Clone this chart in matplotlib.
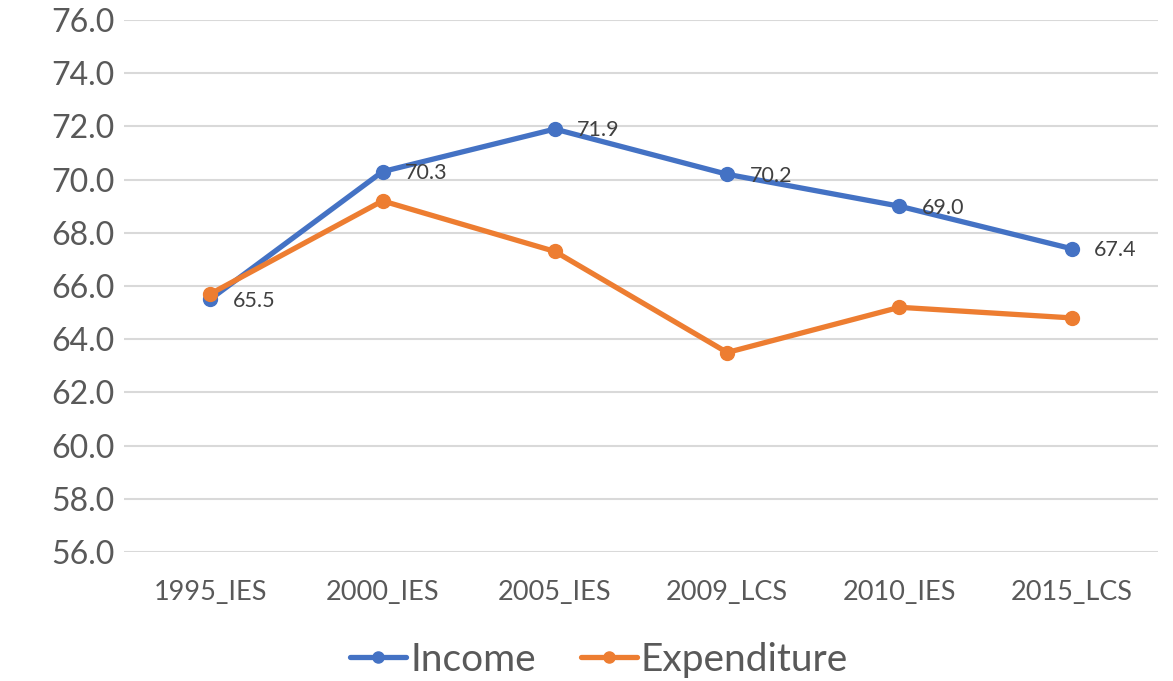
import matplotlib
matplotlib.use("Agg")
import matplotlib.pyplot as plt

categories = ["1995_IES", "2000_IES", "2005_IES", "2009_LCS", "2010_IES", "2015_LCS"]
income = [65.5, 70.3, 71.9, 70.2, 69.0, 67.4]
expenditure = [65.7, 69.2, 67.3, 63.5, 65.2, 64.8]
yticks = [56.0, 58.0, 60.0, 62.0, 64.0, 66.0, 68.0, 70.0, 72.0, 74.0, 76.0]

plt.rcParams['font.family'] = ['Lato', 'DejaVu Sans']
grey = '#595959'
blue = '#4472C4'
orange = '#ED7D31'

fig = plt.figure(figsize=(11.73, 6.81), dpi=100)
ax = fig.add_axes([124/1173, 1-552/681, (1158-124)/1173, (552-20)/681])

x = list(range(len(categories)))
ax.plot(x, income, color=blue, lw=3.8, marker='o', ms=10, label='Income', zorder=3, solid_capstyle='round')
ax.plot(x, expenditure, color=orange, lw=3.8, marker='o', ms=10, label='Expenditure', zorder=3, solid_capstyle='round')

for xi, v in zip(x, income):
    ax.annotate(f"{v:.1f}", (xi, v), xytext=(16, -1), textcoords='offset points',
                ha='left', va='center', fontsize=15.5, color='#404040', zorder=4)

ax.set_xlim(-0.5, len(categories) - 0.5)
ax.set_ylim(56, 76)
ax.set_yticks(yticks)
ax.set_yticklabels([f"{t:.1f}" for t in yticks], fontsize=23, color=grey)
ax.set_xticks(x)
ax.set_xticklabels(categories, fontsize=19.5, color=grey)
ax.tick_params(axis='both', length=0)
ax.tick_params(axis='y', pad=7)
ax.tick_params(axis='x', pad=20)
ax.grid(axis='y', color='#d9d9d9', lw=1.5)
ax.set_axisbelow(True)
for s in ax.spines.values():
    s.set_visible(False)

fig.legend(loc='center', bbox_to_anchor=(599/1173, 1-660/681), ncol=2, frameon=False,
           fontsize=28, labelcolor=grey, handlelength=1.45, handletextpad=0.1, columnspacing=1.15,
           markerscale=0.8)

fig.savefig('out.png', dpi=100)
